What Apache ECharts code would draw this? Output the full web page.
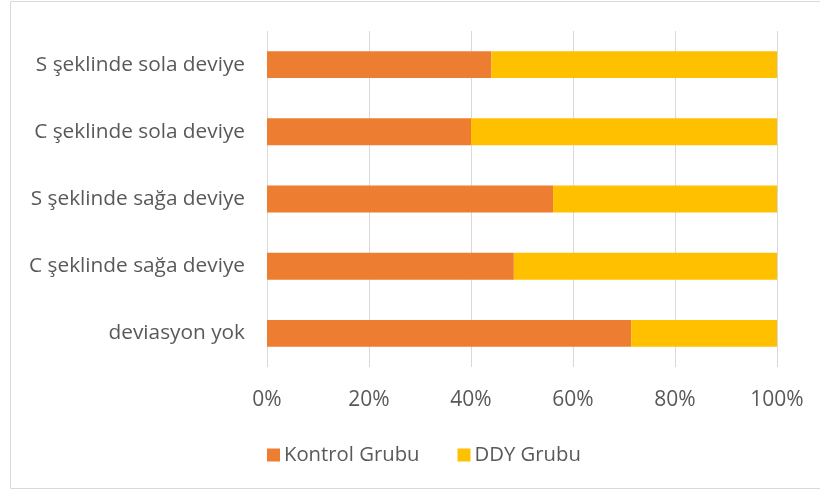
<!DOCTYPE html>
<html><head><meta charset="utf-8">
<script src="https://cdn.jsdelivr.net/npm/echarts@6/dist/echarts.min.js"></script>
<style>html,body{margin:0;padding:0;background:#fff}#c{width:820px;height:490px}</style>
</head><body><div id="c"></div>
<script>
const categories = ["deviasyon yok", "C şeklinde sağa deviye", "S şeklinde sağa deviye", "C şeklinde sola deviye", "S şeklinde sola deviye"];
const kontrolGrubu = [71.4, 48.4, 56.1, 40.0, 44.0];
const ddyGrubu = [28.6, 51.6, 43.9, 60.0, 56.0];
const seriesNames = ["Kontrol Grubu", "DDY Grubu"];
const tickLabels = ["0%", "20%", "40%", "60%", "80%", "100%"];

const font = "Open Sans";
const chart = echarts.init(document.getElementById('c'), null, {renderer: 'canvas'});
chart.setOption({
  animation: false,
  textStyle: {fontFamily: font},
  graphic: [{type: 'rect', shape: {x: 10.5, y: 1.5, width: 830, height: 487}, style: {fill: 'none', stroke: '#d9d9d9', lineWidth: 1}, silent: true}],
  grid: {left: 267, right: 43, top: 31, bottom: 123, containLabel: false},
  legend: {
    top: 440, left: 262, itemWidth: 13, itemHeight: 13, itemGap: 38, icon: 'rect',
    textStyle: {fontSize: 20.3, color: '#595959', fontFamily: font, padding: [0, 0, 0, -1]}, data: seriesNames
  },
  xAxis: {
    type: 'value', min: 0, max: 100, interval: 20,
    axisLabel: {formatter: v => tickLabels[Math.round(v / 20)], fontSize: 21, color: '#595959', margin: 23},
    splitLine: {lineStyle: {color: '#d9d9d9', width: 1}},
    axisLine: {show: false}, axisTick: {show: false}
  },
  yAxis: {
    type: 'category', data: categories,
    axisLabel: {fontSize: 20.8, color: '#595959', margin: 22},
    axisLine: {show: false}, axisTick: {show: false}
  },
  series: [
    {name: seriesNames[0], type: 'bar', stack: 't', data: kontrolGrubu, barCategoryGap: '60%', itemStyle: {color: '#ed7d31'}},
    {name: seriesNames[1], type: 'bar', stack: 't', data: ddyGrubu, barCategoryGap: '60%', itemStyle: {color: '#ffc000'}}
  ]
});
</script></body></html>
